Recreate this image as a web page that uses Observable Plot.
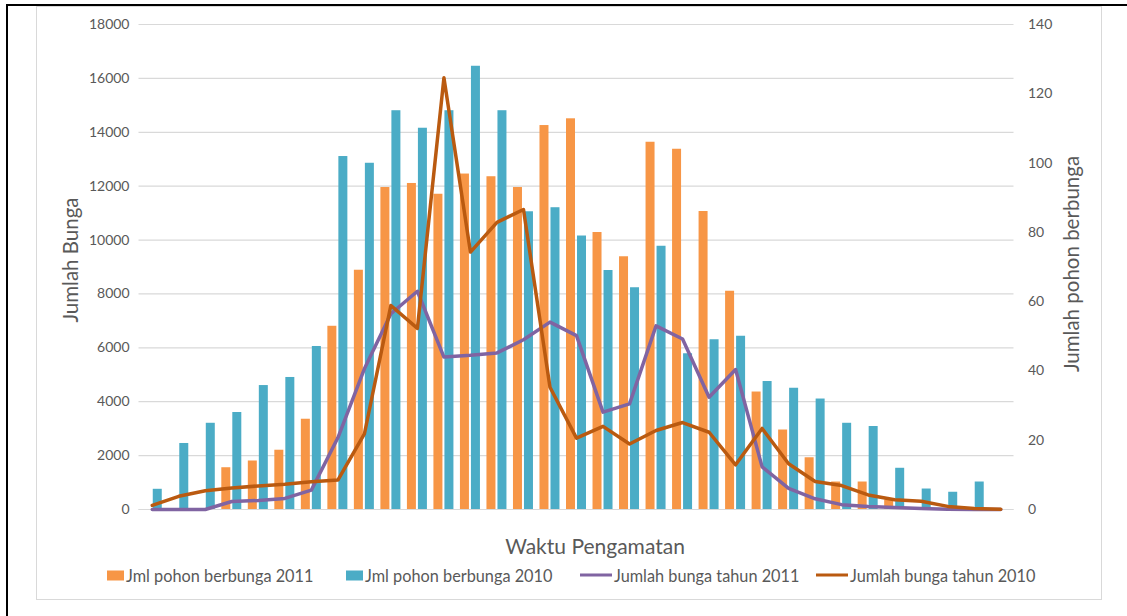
<!DOCTYPE html>
<html>
<head>
<meta charset="utf-8">
<script src="https://cdn.jsdelivr.net/npm/d3@7"></script>
<script src="https://cdn.jsdelivr.net/npm/@observablehq/plot@0.6"></script>
<style>
  html, body { margin: 0; padding: 0; background: #fff; }
  #wrap { position: relative; width: 1127px; height: 616px; overflow: hidden; font-family: Lato, "Open Sans", sans-serif; color: #595959; }
  #chart { position: absolute; left: 0; top: 0; }
  .abs { position: absolute; white-space: nowrap; }
  .ytitle { font-size: 20.5px; transform: translate(-50%, -50%) rotate(-90deg); }
  .xtitle { font-size: 21px; transform: translate(-50%, -50%); }
  .leg { font-size: 16.3px; transform: translateY(-50%); display: flex; align-items: center; }
  .sw { display: inline-block; width: 17px; height: 10px; margin-right: 2px; }
  .ln { display: inline-block; width: 32px; height: 3px; margin-right: 2px; }
</style>
</head>
<body>
<div id="wrap">
  <div class="abs" style="left:36px;top:6px;width:1064px;height:592px;border:1px solid #d9d9d9;"></div>
  <div class="abs" style="left:6px;top:4px;width:2px;height:612px;background:#000;"></div>
  <div class="abs" style="left:6px;top:4px;width:1121px;height:2px;background:#000;"></div>
  <div id="chart"></div>
  <div class="abs ytitle" style="left:70px;top:260px;">Jumlah Bunga</div>
  <div class="abs ytitle" style="left:1071px;top:264px;">Jumlah pohon berbunga</div>
  <div class="abs xtitle" style="left:595px;top:545px;">Waktu Pengamatan</div>
  <div class="abs leg" style="left:107px;top:575px;"><span class="sw" style="background:#F79646"></span>Jml pohon berbunga 2011</div>
  <div class="abs leg" style="left:346px;top:575px;"><span class="sw" style="background:#4BACC6"></span>Jml pohon berbunga 2010</div>
  <div class="abs leg" style="left:580px;top:575px;"><span class="ln" style="background:#8064A2"></span>Jumlah bunga tahun 2011</div>
  <div class="abs leg" style="left:816px;top:575px;"><span class="ln" style="background:#BA5A10"></span>Jumlah bunga tahun 2010</div>
</div>
<script>
// Observation periods (Waktu Pengamatan) – unlabeled categories
const periods = d3.range(1, 34);

// Bars (left axis units)
const pohon2011 = [0,0,0,1550,1800,2200,3350,6800,8880,11950,12100,11700,12450,12350,11950,14250,14500,10280,9380,13630,13370,11060,8100,4360,2950,1920,1020,1020,350,0,0,0,0];
const pohon2010 = [750,2450,3200,3600,4600,4900,6050,13100,12850,14800,14150,14800,16450,14800,11050,11200,10150,8870,8230,9770,5780,6300,6430,4750,4500,4100,3200,3080,1530,760,640,1020,0];

// Lines (right axis units)
const bunga2011 = [0,0,0,2.3,2.6,3.2,5.6,20.7,40.6,56.5,63.0,44.0,44.5,45.2,49.0,54.1,50.2,28.1,30.5,53.0,49.2,32.4,40.4,12.3,6.1,3.1,1.4,0.9,0.6,0.3,0.1,0,0];
const bunga2010 = [1.2,3.8,5.4,6.2,6.8,7.3,8.0,8.5,21.8,58.9,52.3,124.6,74.3,82.9,86.6,35.3,20.6,24.0,18.9,22.8,25.1,22.3,12.9,23.4,13.2,8.1,6.9,4.2,2.8,2.4,0.9,0.3,0.1];

const leftTicks = d3.range(0, 18001, 2000);
const rightTicks = d3.range(0, 141, 20);
const leftMax = 18000, rightMax = 140;
const k = leftMax / rightMax; // secondary-axis mapping

const rows = periods.map((p, i) => ({p, o: pohon2011[i], t: pohon2010[i], b11: bunga2011[i], b10: bunga2010[i]}));

const step = (1127 - 138.5 - 113.5) / periods.length;
const bw = 9, gap = 2;
const side = (step - 2 * bw - gap) / 2;

const chart = Plot.plot({
  width: 1127,
  height: 530,
  marginLeft: 138.5,
  marginRight: 113.5,
  marginTop: 24,
  marginBottom: 21,
  style: {fontFamily: "Lato, 'Open Sans', sans-serif", fontSize: "14px", color: "#595959", background: "transparent"},
  x: {type: "band", domain: periods, padding: 0, round: false, axis: null},
  y: {domain: [0, leftMax], axis: null},
  marks: [
    Plot.gridY(leftTicks, {stroke: "#d9d9d9", strokeOpacity: 1, strokeWidth: 1.2}),
    Plot.axisY(leftTicks, {anchor: "left", tickSize: 0, tickPadding: 9.5, tickFormat: d => String(d), label: null}),
    Plot.axisY(rightTicks.map(v => v * k), {anchor: "right", tickSize: 0, tickPadding: 14, tickFormat: d => String(Math.round(d / k)), textAnchor: "start", label: null}),
    Plot.barY(rows, {x: "p", y: "o", fill: "#F79646", insetLeft: side, insetRight: side + bw + gap}),
    Plot.barY(rows, {x: "p", y: "t", fill: "#4BACC6", insetLeft: side + bw + gap, insetRight: side}),
    Plot.ruleY([0], {stroke: "#d9d9d9", strokeWidth: 1.2}),
    Plot.line(rows, {x: "p", y: d => d.b11 * k, stroke: "#8064A2", strokeWidth: 3.5}),
    Plot.line(rows, {x: "p", y: d => d.b10 * k, stroke: "#BA5A10", strokeWidth: 3.5})
  ]
});
document.getElementById("chart").appendChild(chart);
</script>
</body>
</html>
